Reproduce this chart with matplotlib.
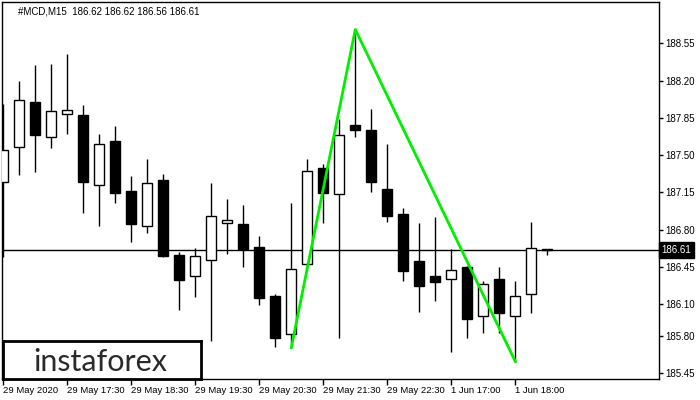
import numpy as np
import matplotlib
matplotlib.use("Agg")
import matplotlib.pyplot as plt

# MCD M15 candles (open, high, low, close)
opens = [187.25, 187.58, 188.00, 187.67, 187.89, 187.88, 187.22, 187.63, 187.16, 186.83,
         187.27, 186.56, 186.36, 186.51, 186.86, 186.85, 186.64, 186.18, 185.82, 186.48,
         187.38, 187.13, 187.78, 187.74, 187.18, 186.95, 186.50, 186.36, 186.34, 186.45,
         185.99, 186.34, 185.99, 186.19, 186.62]
highs = [187.98, 188.20, 188.35, 188.36, 188.45, 187.97, 187.70, 187.77, 187.30, 187.46,
         187.32, 186.59, 186.63, 187.24, 187.09, 187.03, 186.74, 186.19, 187.05, 187.46,
         187.42, 187.84, 188.68, 187.93, 187.60, 187.00, 186.86, 186.92, 186.62, 186.46,
         186.32, 186.45, 186.32, 186.87, 186.62]
lows = [186.54, 187.31, 187.34, 187.57, 187.70, 186.96, 186.83, 187.05, 186.68, 186.77,
        186.54, 186.04, 186.17, 185.75, 186.57, 186.45, 186.09, 185.70, 185.73, 186.47,
        186.86, 185.78, 187.67, 187.15, 186.87, 186.32, 186.03, 186.13, 185.65, 185.78,
        185.83, 185.83, 185.56, 186.02, 186.56]
closes = [187.55, 188.02, 187.69, 187.91, 187.92, 187.25, 187.60, 187.14, 186.85, 187.24,
          186.55, 186.33, 186.55, 186.93, 186.89, 186.62, 186.16, 185.78, 186.43, 187.35,
          187.14, 187.69, 187.74, 187.25, 186.93, 186.41, 186.27, 186.31, 186.42, 185.96,
          186.29, 186.02, 186.18, 186.63, 186.61]

# pattern line (bar index, price)
pattern_idx = [18, 22, 32]
pattern_price = [185.69, 188.68, 185.56]

last_price = 186.61
price_ticks = [188.55, 188.20, 187.85, 187.50, 187.15, 186.80, 186.45, 186.10, 185.80, 185.45]
time_tick_idx = [0, 4, 8, 12, 16, 20, 24, 28, 32]
time_labels = ["29 May 2020", "29 May 17:30", "29 May 18:30", "29 May 19:30", "29 May 20:30",
               "29 May 21:30", "29 May 22:30", "1 Jun 17:00", "1 Jun 18:00"]
title = "#MCD,M15  186.62 186.62 186.56 186.61"

plt.rcParams["font.family"] = ["Liberation Sans", "DejaVu Sans"]

fig = plt.figure(figsize=(7, 4), dpi=100)
ax = fig.add_axes([2 / 700, 21 / 400, 657 / 700, 377 / 400])

x = np.arange(len(opens))
o = np.array(opens)
c = np.array(closes)
up = c >= o

# wicks
ax.vlines(x, lows, highs, color="black", lw=1, zorder=2)
# bodies
bottom = np.minimum(o, c)
height = np.maximum(np.abs(c - o), 0.012)
ax.bar(x, height, bottom=bottom, width=0.62,
       color=np.where(up, "white", "black"), edgecolor="black", linewidth=1, zorder=3)

# last price line
ax.axhline(last_price, color="black", lw=1, zorder=1)

# pattern
ax.plot(pattern_idx, pattern_price, color="#00ee00", lw=2, zorder=4)

ax.set_xlim(-0.08, 40.98)
ax.set_ylim(185.396, 188.938)

ax.yaxis.tick_right()
ax.set_yticks(price_ticks)
ax.set_yticklabels([f"{p:.2f}" for p in price_ticks])
ax.tick_params(axis="y", direction="out", length=3, width=1, labelsize=7, pad=1.5)
ax.set_xticks(time_tick_idx)
ax.set_xticklabels(time_labels)
ax.tick_params(axis="x", direction="out", length=4, width=1, labelsize=6.8, pad=1)
for lbl in ax.get_xticklabels():
    lbl.set_ha("left")
for s in ax.spines.values():
    s.set_linewidth(1)

# price label on the axis
ax.text(1.004, last_price, f"{last_price:.2f}", transform=ax.get_yaxis_transform(),
        ha="left", va="center", fontsize=7, color="white",
        bbox=dict(boxstyle="square,pad=0.3", fc="black", ec="black"), zorder=10, clip_on=False)

fig.text(18 / 700, 1 - 11 / 400, title, fontsize=7, va="center", ha="left")

# logo box
lax = fig.add_axes([3 / 700, 21 / 400, 198 / 700, 38 / 400])
lax.set_xticks([])
lax.set_yticks([])
for s in lax.spines.values():
    s.set_linewidth(2)
lax.text(0.49, 0.45, "instaforex", ha="center", va="center", fontsize=22,
         family=["Lato", "DejaVu Sans"], color="#2a2a2a", transform=lax.transAxes)

fig.savefig("out.png", dpi=100)
